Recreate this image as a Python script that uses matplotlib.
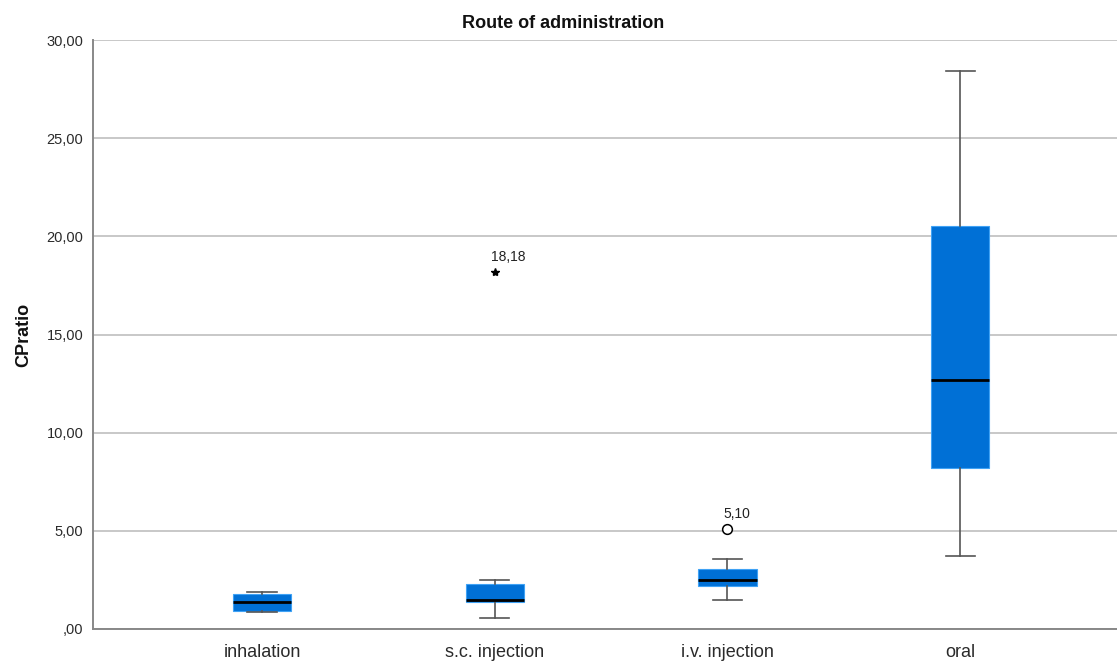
import matplotlib
matplotlib.use("Agg")
import matplotlib.pyplot as plt
from matplotlib.ticker import FixedLocator, FuncFormatter

plt.rcParams['font.family'] = ['Liberation Sans', 'DejaVu Sans']

# Summary statistics per route of administration
categories = ["inhalation", "s.c. injection", "i.v. injection", "oral"]
whisker_low = [0.87, 0.56, 1.48, 3.70]
q1 = [0.92, 1.38, 2.17, 8.21]
median = [1.36, 1.48, 2.48, 12.68]
q3 = [1.77, 2.29, 3.06, 20.53]
whisker_high = [1.87, 2.51, 3.57, 28.40]
# outliers: (category index, value, marker)
outlier_cat = [1, 2]
outlier_val = [18.18, 5.10]
outlier_marker = ["*", "o"]

yticks = [0, 5, 10, 15, 20, 25, 30]

fig = plt.figure(figsize=(11.17, 6.66), dpi=100)
ax = fig.add_axes([93 / 1117, 1 - 629 / 666, 1 - 93 / 1117, (629 - 40) / 666])

stats = []
for i, name in enumerate(categories):
    stats.append(dict(label=name, whislo=whisker_low[i], q1=q1[i], med=median[i],
                      q3=q3[i], whishi=whisker_high[i], fliers=[]))

positions = list(range(len(categories)))
ax.bxp(stats, positions=positions, widths=0.25, capwidths=0.125,
       patch_artist=True, showfliers=False,
       boxprops=dict(facecolor="#0070D6", edgecolor="#3FA2F5", linewidth=0.8),
       medianprops=dict(color="black", linewidth=2.0),
       whiskerprops=dict(color="#555555", linewidth=1.2),
       capprops=dict(color="#555555", linewidth=1.2),
       zorder=3)

for c, v, m in zip(outlier_cat, outlier_val, outlier_marker):
    if m == "*":
        ax.plot(c, v, marker="*", color="black", markersize=6, linestyle="none", zorder=4)
    else:
        ax.plot(c, v, marker="o", markerfacecolor="white", markeredgecolor="black",
                markeredgewidth=1.1, markersize=7, linestyle="none", zorder=4)
    ax.annotate(f"{v:.2f}".replace(".", ","), xy=(c, v), xytext=(-3, 6),
                textcoords="offset points", ha="left", va="bottom",
                fontsize=10, color="#222222", zorder=5)

ax.set_xlim(-0.726, 3.674)
ax.set_ylim(0, 30)
ax.yaxis.set_major_locator(FixedLocator(yticks))
ax.yaxis.set_major_formatter(FuncFormatter(
    lambda v, p: ("%.2f" % v).replace(".", ",").lstrip("0") if v == 0 else ("%.2f" % v).replace(".", ",")))
ax.set_xticks(positions)
ax.set_xticklabels(categories)

ax.grid(axis="y", color="#C4C4C4", linewidth=1.3, zorder=0)
ax.set_axisbelow(True)
for s in ["top", "right"]:
    ax.spines[s].set_visible(False)
for s in ["left", "bottom"]:
    ax.spines[s].set_color("#888888")
    ax.spines[s].set_linewidth(1.4)

ax.tick_params(axis="y", length=0, pad=7, labelsize=10.5, labelcolor="#2A2A2A")
ax.tick_params(axis="x", length=0, pad=11, labelsize=13, labelcolor="#2A2A2A")

ax.set_ylabel("CPratio", fontsize=13, fontweight="bold", color="#111111", labelpad=10)
fig.text(563 / 1117, 1 - 23 / 666, "Route of administration", ha="center", va="center",
         fontsize=13, fontweight="bold", color="#111111")

fig.savefig("out.png", dpi=100, facecolor="white")
